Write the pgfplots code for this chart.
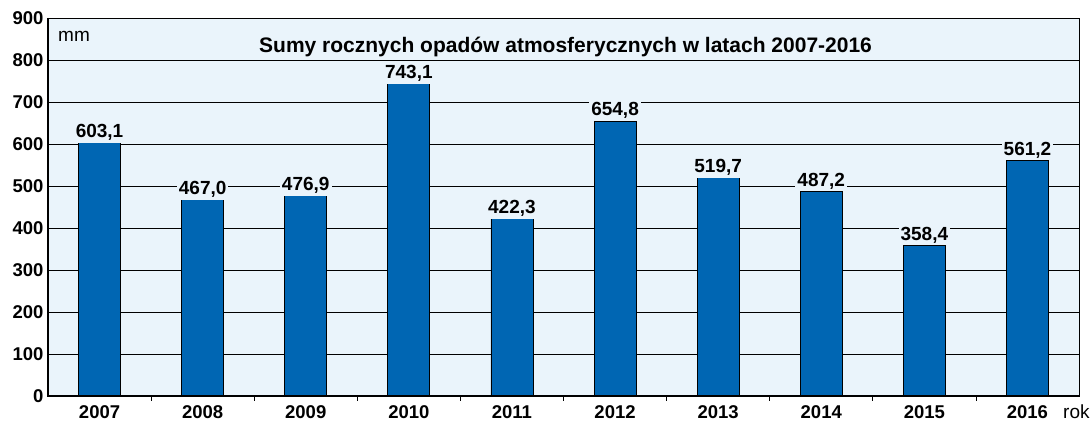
\documentclass[border=0pt]{standalone}
\usepackage{pgfplots}
\pgfplotsset{compat=1.18}
\usepackage{fontspec}
\setmainfont{Liberation Sans}
\definecolor{bgc}{HTML}{EAF4FB}
\definecolor{barc}{HTML}{0066B3}
\begin{document}
\begin{tikzpicture}
\begin{axis}[
  scale only axis,
  width=1031pt, height=378pt,
  xmin=-0.5, xmax=9.5,
  ymin=0, ymax=900,
  ytick={0,100,...,900},
  xtick={0,...,9},
  xticklabels={2007,2008,2009,2010,2011,2012,2013,2014,2015,2016},
  minor xtick={0.5,1.5,...,8.5},
  xtick pos=bottom, ytick pos=left,
  major tick length=0pt,
  minor tick length=5pt,
  tick align=outside,
  tick style={black, line width=0.8pt},
  ymajorgrids,
  grid style={black, line width=0.8pt},
  axis background/.style={fill=bgc},
  axis line style={black, line width=0.8pt},
  tick label style={font=\fontsize{18.5}{21}\selectfont\bfseries},
  /pgf/number format/assume math mode=true,
  xticklabel style={anchor=base, yshift=-23pt},
  yticklabel style={xshift=-1pt},
  clip=false,
]
\addplot[ybar, bar width=0.407, fill=barc, draw=black, line width=0.8pt,
  nodes near coords,
  nodes near coords style={font=\fontsize{19}{22}\selectfont\bfseries, fill=bgc, inner sep=2pt, anchor=base, yshift=5pt,
    /pgf/number format/.cd, fixed, fixed zerofill, precision=1, use comma, assume math mode=true},
] coordinates {
(0,603.1) (1,467.0) (2,476.9) (3,743.1) (4,422.3) (5,654.8) (6,519.7) (7,487.2) (8,358.4) (9,561.2)
};
\draw[black, line width=1.8pt] (rel axis cs:0,1) -- (rel axis cs:0,0) -- (rel axis cs:1,0);
\node[anchor=base west, inner sep=0pt, font=\fontsize{19}{22}\selectfont] at (rel axis cs:0.0097,0.937) {mm};
\node[anchor=base, inner sep=0pt, font=\fontsize{21}{24}\selectfont\bfseries] at (rel axis cs:0.502,0.910) {Sumy rocznych opadów atmosferycznych w latach 2007-2016};
\node[anchor=base west, inner sep=0pt, font=\fontsize{19}{22}\selectfont] at ([xshift=-16pt, yshift=-23pt]rel axis cs:1,0) {rok};
\coordinate (SW) at (rel axis cs:0,0);
\coordinate (NE) at (rel axis cs:1,1);
\end{axis}
\pgfresetboundingbox
\path ([xshift=-48pt, yshift=-27pt]SW) rectangle ([xshift=11pt, yshift=18pt]NE);
\end{tikzpicture}
\end{document}
